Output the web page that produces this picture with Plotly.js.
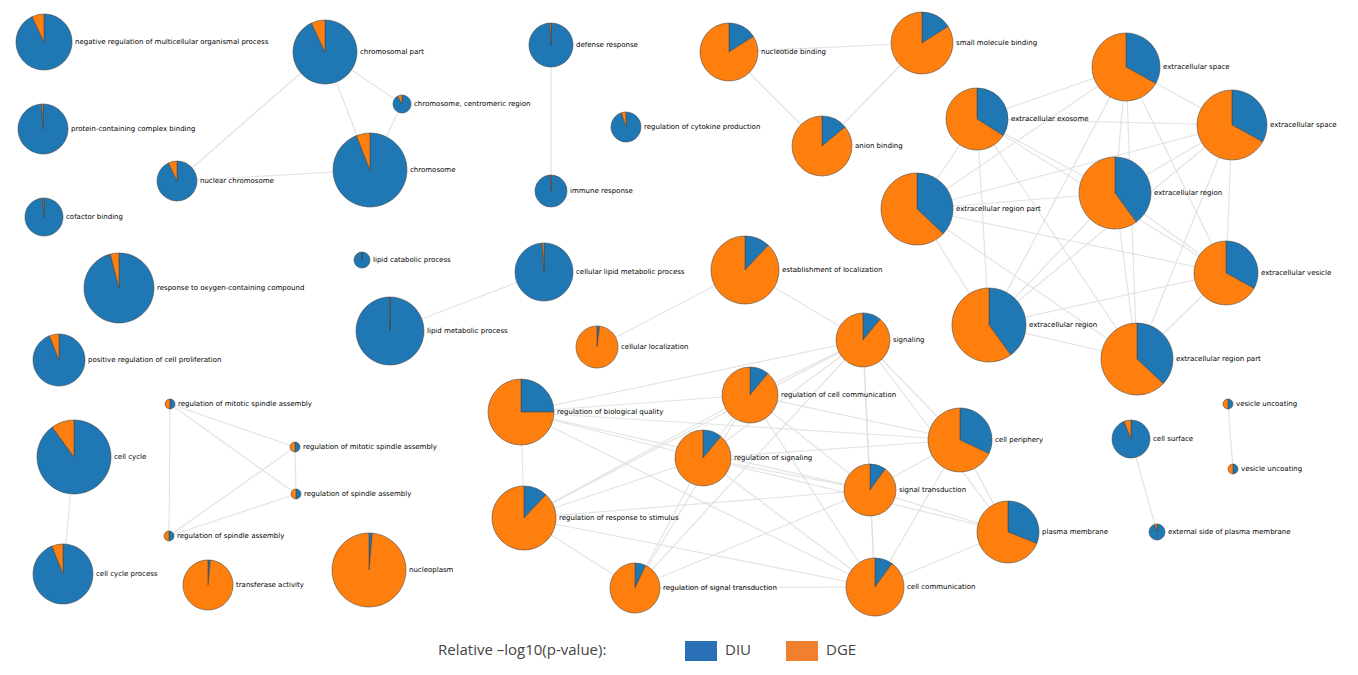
<!DOCTYPE html>
<html>
<head>
<meta charset="utf-8">
<script src="https://cdn.plot.ly/plotly-3.0.1.min.js"></script>
<style>html,body{margin:0;padding:0;background:#fff;}#chart{width:1358px;height:675px;}</style>
</head>
<body>
<div id="chart"></div>
<script>
// ---- data: GO term network, pie = relative -log10(p) share DIU vs DGE ----
const termLabels = [
  'negative regulation of multicellular organismal process','chromosomal part','chromosome, centromeric region','chromosome','nuclear chromosome',
  'protein-containing complex binding','cofactor binding','response to oxygen-containing compound','positive regulation of cell proliferation','lipid catabolic process',
  'lipid metabolic process','defense response','immune response','regulation of cytokine production','nucleotide binding',
  'anion binding','small molecule binding','extracellular space','extracellular exosome','extracellular space',
  'extracellular region','extracellular region part','extracellular vesicle','extracellular region','extracellular region part',
  'cellular lipid metabolic process','establishment of localization','cellular localization','signaling','regulation of cell communication',
  'regulation of biological quality','regulation of signaling','regulation of response to stimulus','regulation of signal transduction','signal transduction',
  'cell communication','cell periphery','plasma membrane','cell surface','external side of plasma membrane',
  'vesicle uncoating','vesicle uncoating','regulation of mitotic spindle assembly','regulation of mitotic spindle assembly','regulation of spindle assembly',
  'regulation of spindle assembly','cell cycle','cell cycle process','transferase activity','nucleoplasm'
];
// network layout coordinates (layout units)
const layoutX = [44,325,402,370,177, 43,44,119,59,362, 390,551,551,626,729, 822,922,1126,977,1232, 1115,917,1226,989,1137, 544,745,597,863,750, 521,703,524,635,870, 875,960,1008,1131,1157, 1228,1233,170,295,296, 169,74,63,208,369];
const layoutY = [42,52,104,170,181, 129,217,288,360,260, 331,45,191,127,52, 146,43,67,119,125, 193,209,273,325,359, 272,270,347,340,395, 412,458,518,588,490, 587,440,532,439,532, 404,469,404,447,494, 536,457,574,585,570];
// node size (significance score)
const nodeSize = [28,32,9,37,20, 25,19,35,26,8, 34,22,16,15,29, 30,31,34,31,35, 36,36,32,37,36, 29,34,21,27,28, 33,28,32,25,26, 29,32,31,19,8, 5,5,5,5,5, 5,37,30,25,37];
// DIU share of relative -log10(p-value); DGE = 1 - DIU
const diuShare = [0.93,0.93,0.92,0.94,0.93, 0.99,0.99,0.96,0.94,0.995, 0.998,0.99,0.99,0.95,0.16, 0.14,0.16,0.33,0.34,0.33, 0.40,0.37,0.33,0.40,0.37, 0.99,0.12,0.02,0.11,0.11, 0.25,0.11,0.12,0.07,0.10, 0.10,0.32,0.31,0.94,0.95, 0.5,0.5,0.5,0.5,0.5, 0.5,0.90,0.94,0.015,0.015];
// edges (1-based node numbers)
const edgeFrom = [2,2,2,4,4, 12,47,11,28,27, 15,15,16,39,41, 43,43,43,44,44,45];
const edgeTo   = [5,4,3,3,5, 13,48,26,27,29, 17,16,17,40,42, 44,45,46,45,46,46];
// dense clusters (fully linked groups)
const extracellularGroup = [18,19,20,21,22,23,24,25];
const signalingEdges = [
  [29,30],[29,31],[29,32],[29,33],[29,34],[29,35],[29,36],[29,37],[29,38],
  [30,31],[30,32],[30,33],[30,34],[30,35],[30,36],[30,37],
  [31,32],[31,33],[31,35],[31,36],[31,37],
  [32,33],[32,34],[32,35],[32,36],[32,37],[32,38],
  [33,34],[33,35],[33,36],
  [34,35],[34,36],
  [35,36],[35,37],[35,38],
  [36,37],[36,38],
  [37,38]
];
const legendTitle = 'Relative \u2013log10(p-value):';
const seriesNames = ['DIU','DGE'];

// ---- build ----
const W = 1358, H = 675;
const BLUE = '#1f77b4', ORANGE = '#ff7f0e';
let pairs = [];
for (let i = 0; i < edgeFrom.length; i++) pairs.push([edgeFrom[i], edgeTo[i]]);
for (let i = 0; i < extracellularGroup.length; i++)
  for (let j = i + 1; j < extracellularGroup.length; j++) pairs.push([extracellularGroup[i], extracellularGroup[j]]);
pairs = pairs.concat(signalingEdges);

const ex = [], ey = [];
pairs.forEach(p => {
  const a = p[0] - 1, b = p[1] - 1;
  ex.push(layoutX[a], layoutX[b], null);
  ey.push(layoutY[a], layoutY[b], null);
});

const traces = [{
  type: 'scatter', mode: 'lines', x: ex, y: ey,
  line: {color: 'rgba(222,222,222,0.85)', width: 1.2},
  hoverinfo: 'skip', showlegend: false
}];

const annotations = [];
for (let i = 0; i < termLabels.length; i++) {
  const cx = layoutX[i], cy = layoutY[i], r = nodeSize[i];
  traces.push({
    type: 'pie', values: [diuShare[i], 1 - diuShare[i]], labels: seriesNames,
    marker: {colors: [BLUE, ORANGE], line: {color: 'rgba(70,70,70,0.8)', width: 0.7}},
    sort: false, direction: 'clockwise', rotation: 0, textinfo: 'none',
    hoverinfo: 'label+percent', showlegend: false,
    domain: {x: [(cx - r) / W, (cx + r) / W], y: [1 - (cy + r) / H, 1 - (cy - r) / H]}
  });
  annotations.push({
    x: cx + r + 1, y: cy, xref: 'x', yref: 'y', text: termLabels[i], showarrow: false,
    xanchor: 'left', yanchor: 'middle', font: {family: 'DejaVu Sans', size: 7, color: '#000'}
  });
}

// legend
annotations.push({x: 436, y: 649, xref: 'x', yref: 'y', text: legendTitle, showarrow: false,
  xanchor: 'left', yanchor: 'middle', font: {family: 'Open Sans', size: 15, color: '#444'}});
annotations.push({x: 723, y: 649, xref: 'x', yref: 'y', text: seriesNames[0], showarrow: false,
  xanchor: 'left', yanchor: 'middle', font: {family: 'Open Sans', size: 15, color: '#444'}});
annotations.push({x: 824, y: 649, xref: 'x', yref: 'y', text: seriesNames[1], showarrow: false,
  xanchor: 'left', yanchor: 'middle', font: {family: 'Open Sans', size: 15, color: '#444'}});
const shapes = [
  {type: 'rect', xref: 'x', yref: 'y', x0: 685, x1: 717, y0: 641, y1: 661, fillcolor: '#2a70b6', line: {width: 0}},
  {type: 'rect', xref: 'x', yref: 'y', x0: 786, x1: 818, y0: 641, y1: 661, fillcolor: '#f07f30', line: {width: 0}}
];

const layout = {
  width: W, height: H, margin: {l: 0, r: 0, t: 0, b: 0},
  paper_bgcolor: '#fff', plot_bgcolor: '#fff', showlegend: false,
  xaxis: {range: [0, W], visible: false, fixedrange: true},
  yaxis: {range: [H, 0], visible: false, fixedrange: true},
  annotations: annotations, shapes: shapes
};
Plotly.newPlot('chart', traces, layout, {displayModeBar: false, staticPlot: true});
</script>
</body>
</html>
